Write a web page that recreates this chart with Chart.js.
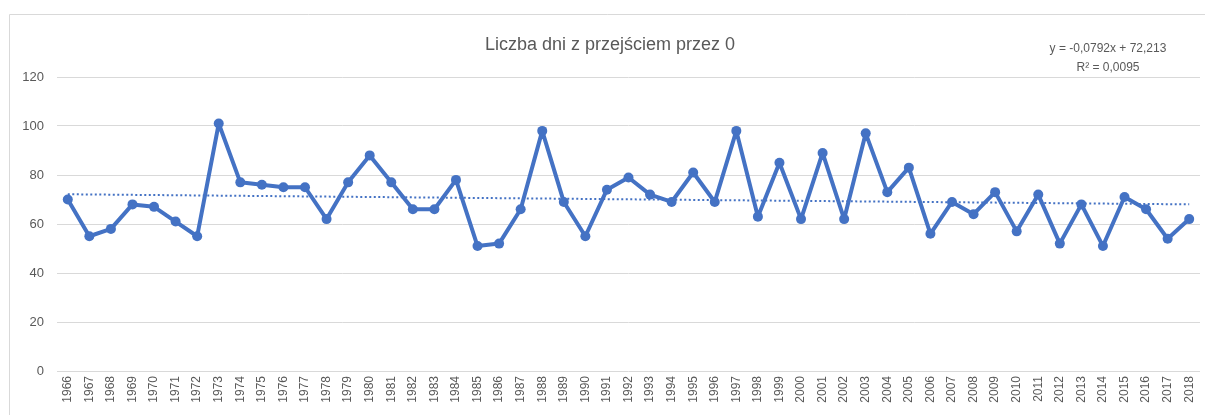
<!DOCTYPE html>
<html>
<head>
<meta charset="utf-8">
<script src="https://cdn.jsdelivr.net/npm/chart.js@4.4.1/dist/chart.umd.min.js"></script>
<style>
  html, body { margin: 0; padding: 0; background: #fff; }
  #wrap { width: 1205px; height: 415px; position: relative; }
</style>
</head>
<body>
<div id="wrap"><canvas id="chartDays"></canvas></div>
<script>
// Dane
const years = [
  '1966','1967','1968','1969','1970','1971','1972','1973','1974','1975',
  '1976','1977','1978','1979','1980','1981','1982','1983','1984','1985',
  '1986','1987','1988','1989','1990','1991','1992','1993','1994','1995',
  '1996','1997','1998','1999','2000','2001','2002','2003','2004','2005',
  '2006','2007','2008','2009','2010','2011','2012','2013','2014','2015',
  '2016','2017','2018'
];
const days = [
  70, 55, 58, 68, 67, 61, 55, 101, 77, 76,
  75, 75, 62, 77, 88, 77, 66, 66, 78, 51,
  52, 66, 98, 69, 55, 74, 79, 72, 69, 81,
  69, 98, 63, 85, 62, 89, 62, 97, 73, 83,
  56, 69, 64, 73, 57, 72, 52, 68, 51, 71,
  66, 54, 62
];
const yTicks = [0, 20, 40, 60, 80, 100, 120];
const trendSlope = -0.0792;
const trendIntercept = 72.213;
const trendLabel = ['y = -0,0792x + 72,213', 'R\u00b2 = 0,0095'];
const chartTitle = 'Liczba dni z przejściem przez 0';

// Linia trendu z równania pokazanego na wykresie (x = 1..n)
const trend = years.map((_, i) => trendSlope * (i + 1) + trendIntercept);

const BLUE = '#4472C4';
const GRAY = '#595959';
const FONT = '"Liberation Sans", Arial, sans-serif';

// Ramka, tytuł i równanie trendu
const decorPlugin = {
  id: 'decor',
  beforeDraw(chart) {
    const ctx = chart.ctx;
    ctx.save();
    ctx.strokeStyle = '#d9d9d9';
    ctx.lineWidth = 1;
    ctx.beginPath();
    ctx.moveTo(9.5, 415);
    ctx.lineTo(9.5, 14.5);
    ctx.lineTo(1205, 14.5);
    ctx.stroke();
    ctx.restore();
  },
  afterDraw(chart) {
    const ctx = chart.ctx;
    ctx.save();
    ctx.fillStyle = GRAY;
    ctx.textAlign = 'center';
    ctx.textBaseline = 'middle';
    ctx.font = '18px ' + FONT;
    ctx.fillText(chartTitle, 610, 45);
    ctx.font = '12px ' + FONT;
    ctx.fillText(trendLabel[0], 1108, 49);
    ctx.fillText(trendLabel[1], 1108, 68);
    ctx.restore();
  }
};

new Chart(document.getElementById('chartDays').getContext('2d'), {
  type: 'line',
  data: {
    labels: years,
    datasets: [{
      label: 'Liczba dni',
      data: days,
      borderColor: BLUE,
      backgroundColor: BLUE,
      borderWidth: 4,
      borderJoinStyle: 'round',
      borderCapStyle: 'round',
      pointRadius: 5,
      pointBorderWidth: 0,
      tension: 0,
      order: 1
    }, {
      label: 'Trend',
      data: trend,
      borderColor: BLUE,
      borderWidth: 2,
      borderDash: [2, 2.5],
      pointRadius: 0,
      tension: 0,
      order: 2
    }]
  },
  options: {
    responsive: true,
    maintainAspectRatio: false,
    animation: false,
    layout: { padding: { top: 77, right: 4, left: 0, bottom: 0 } },
    plugins: {
      legend: { display: false },
      tooltip: { enabled: false }
    },
    scales: {
      x: {
        offset: true,
        grid: { display: false, drawTicks: false },
        border: { display: false },
        ticks: {
          minRotation: 90,
          maxRotation: 90,
          autoSkip: false,
          padding: 5,
          color: GRAY,
          font: { family: FONT, size: 12 }
        },
        afterFit(scale) {
          scale.height = 44;
          scale.paddingLeft = 0;
          scale.paddingRight = 0;
        }
      },
      y: {
        min: 0,
        max: 120,
        afterBuildTicks(scale) { scale.ticks = yTicks.map(v => ({ value: v })); },
        grid: { color: '#d9d9d9', lineWidth: 1, drawTicks: false },
        border: { display: false },
        ticks: {
          padding: 13,
          color: GRAY,
          font: { family: FONT, size: 13 }
        },
        afterFit(scale) { scale.width = 57; }
      }
    }
  },
  plugins: [decorPlugin]
});
</script>
</body>
</html>
